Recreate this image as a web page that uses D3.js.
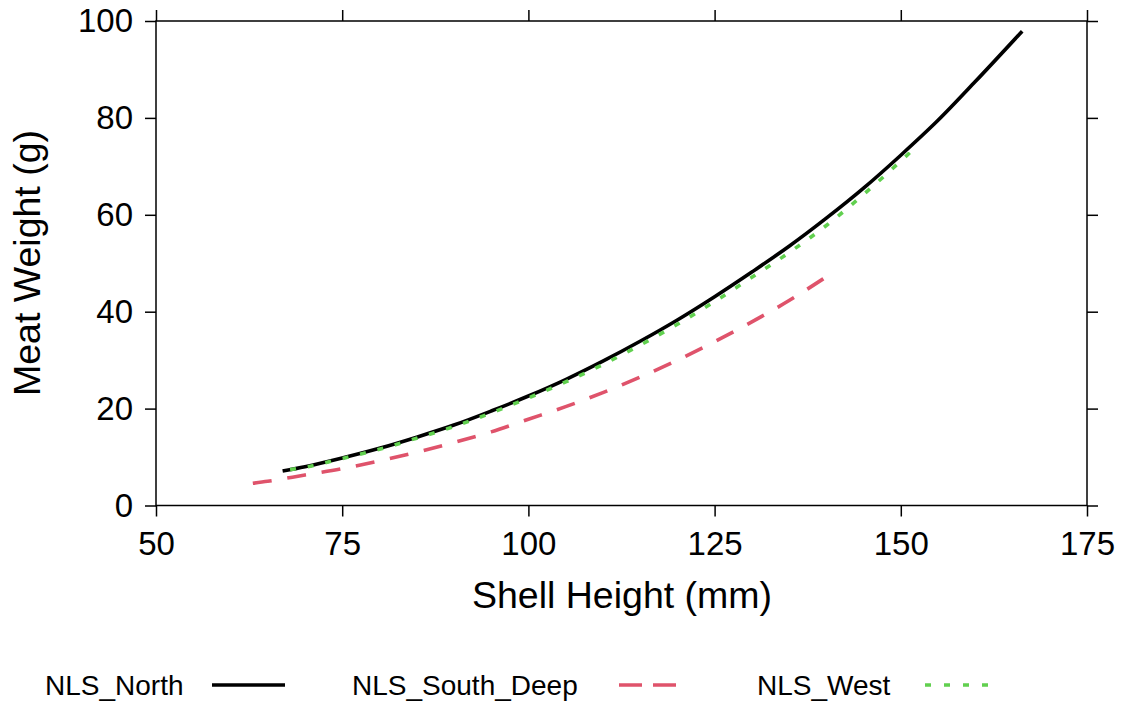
<!DOCTYPE html>
<html>
<head>
<meta charset="utf-8">
<script src="https://cdn.jsdelivr.net/npm/d3@7"></script>
<style>
  body { margin: 0; background: #fff; }
  text { font-family: "Liberation Sans", Arial, sans-serif; fill: #000; }
</style>
</head>
<body>
<svg id="chart" width="1125" height="709"></svg>
<script>
// values: shell height (mm) -> meat weight (g)
var northH = [67, 70, 75, 80, 85, 90, 95, 100, 105, 110, 115, 120, 125, 130, 135, 140, 145, 150, 155, 160, 166.3]
var northW = [7.1, 8.0, 9.8, 11.8, 14.1, 16.6, 19.5, 22.6, 26.0, 29.8, 33.9, 38.3, 43.1, 48.2, 53.5, 59.3, 65.5, 72.3, 79.5, 87.5, 97.9]

var southH = [63, 65, 70, 75, 80, 85, 90, 95, 100, 105, 110, 115, 120, 125, 130, 135, 139.6]
var southW = [4.6, 5.0, 6.3, 7.6, 9.2, 11.0, 13.0, 15.2, 17.8, 20.4, 23.3, 26.5, 30.0, 33.8, 37.9, 42.3, 46.8]

var westH = [68, 70, 75, 80, 85, 90, 95, 100, 105, 110, 115, 120, 125, 130, 135, 140, 145, 151.2]
var westW = [7.4, 7.9, 9.7, 11.6, 13.9, 16.3, 19.1, 22.2, 25.5, 29.1, 33.1, 37.4, 42.1, 47.1, 52.2, 57.8, 64.2, 72.8]

var xTicks = [50, 75, 100, 125, 150, 175]
var yTicks = [0, 20, 40, 60, 80, 100]

var seriesNames = ['NLS_North', 'NLS_South_Deep', 'NLS_West']
var seriesColors = ['#000000', '#DF536B', '#61D04F']

var series = [
  {name: seriesNames[0], color: seriesColors[0], dash: null, legendDash: null,
    values: northH.map((h, i) => ({h, w: northW[i]}))},
  {name: seriesNames[1], color: seriesColors[1], dash: [19, 15], legendDash: '23,11',
    values: southH.map((h, i) => ({h, w: southW[i]}))},
  {name: seriesNames[2], color: seriesColors[2], dash: [6, 12], legendDash: '6,13',
    values: westH.map((h, i) => ({h, w: westW[i]}))},
]

var margin = {left: 156, top: 21}
var width = 931, height = 484.5

var svg = d3.select('#chart')
var g = svg.append('g').attr('transform', `translate(${margin.left},${margin.top})`)

var x = d3.scaleLinear().domain([50, 175]).range([0, width])
var y = d3.scaleLinear().domain([0, 100]).range([height, 0])

var tickLen = 11

function styleAxis(sel, showText){
  sel.selectAll('.domain').remove()
  sel.selectAll('line').attr('stroke', '#000').attr('stroke-width', 1.5)
  sel.selectAll('text').style('font-size', '33px').attr('fill', '#000')
  if (!showText) sel.selectAll('text').remove()
}

g.append('g').attr('transform', `translate(0,${height})`)
  .call(d3.axisBottom(x).tickValues(xTicks).tickSize(tickLen).tickPadding(15))
  .call(styleAxis, true)
g.append('g')
  .call(d3.axisTop(x).tickValues(xTicks).tickSize(tickLen))
  .call(styleAxis, false)
g.append('g')
  .call(d3.axisLeft(y).tickValues(yTicks).tickSize(tickLen).tickPadding(12))
  .call(styleAxis, true)
g.append('g').attr('transform', `translate(${width},0)`)
  .call(d3.axisRight(y).tickValues(yTicks).tickSize(tickLen))
  .call(styleAxis, false)

g.append('rect')
  .attr('width', width).attr('height', height)
  .attr('fill', 'none').attr('stroke', '#000').attr('stroke-width', 1.5)

var line = d3.line().x(d => x(d.h)).y(d => y(d.w)).curve(d3.curveMonotoneX)

// draw order: west on top of north as in the picture
;[series[1], series[0], series[2]].forEach(s => {
  var path = g.append('path')
    .attr('d', line(s.values))
    .attr('fill', 'none')
    .attr('stroke', s.color)
    .attr('stroke-width', 3.6)
  if (s.dash) {
    // stretch the gap a little so the curve starts and ends on a dash
    var len = path.node().getTotalLength()
    var n = Math.max(1, Math.round((len - s.dash[0]) / (s.dash[0] + s.dash[1])))
    var gap = (len - s.dash[0]) / n - s.dash[0]
    path.attr('stroke-dasharray', s.dash[0] + ',' + gap)
  }
})

// axis titles
svg.append('text')
  .attr('x', 622).attr('y', 608)
  .attr('text-anchor', 'middle')
  .style('font-size', '37.5px')
  .text('Shell Height (mm)')

svg.append('text')
  .attr('transform', `translate(40,263) rotate(-90)`)
  .attr('text-anchor', 'middle')
  .style('font-size', '37.5px')
  .text('Meat Weight (g)')

// legend
var legendText = [45, 352, 757]
var legendLine = [[212, 285], [619, 676], [925, 988]]

series.forEach((s, i) => {
  svg.append('text')
    .attr('x', legendText[i]).attr('y', 695)
    .style('font-size', '28px')
    .text(s.name)
  svg.append('line')
    .attr('x1', legendLine[i][0]).attr('x2', legendLine[i][1])
    .attr('y1', 685).attr('y2', 685)
    .attr('stroke', s.color).attr('stroke-width', 3.6)
    .attr('stroke-dasharray', s.legendDash)
})
</script>
</body>
</html>
